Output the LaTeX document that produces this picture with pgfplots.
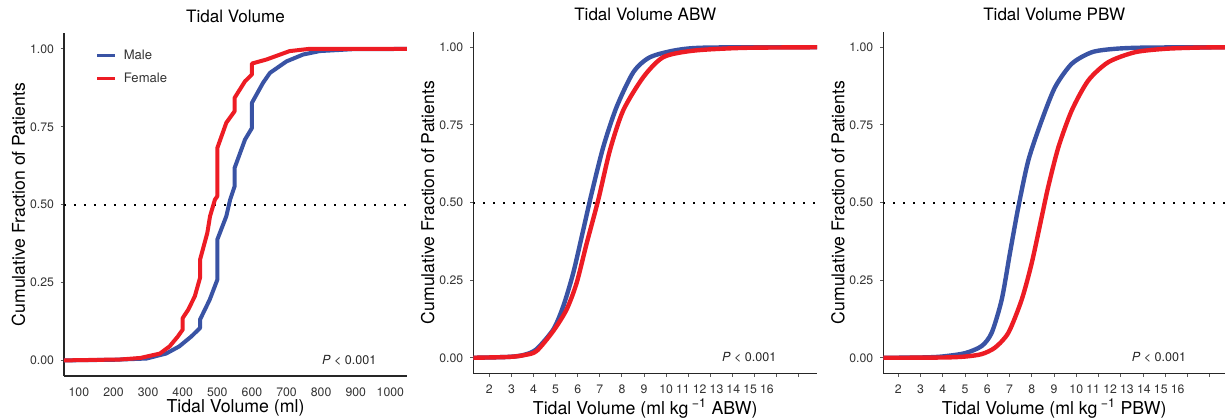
\documentclass[border=0pt]{standalone}
\usepackage{fontspec}
\setmainfont{TeX Gyre Heros}
\usepackage{pgfplots}
\pgfplotsset{compat=1.18}

\definecolor{male}{RGB}{57,83,164}
\definecolor{female}{RGB}{237,28,36}

% 1 px of the reference = 0.75pt
\pgfplotsset{
  cdf/.style={
    scale only axis,
    axis x line*=bottom, axis y line*=left,
    axis line style={black!85, line width=0.9pt},
    ymin=-0.05, ymax=1.05,
    ytick={0,0.25,0.5,0.75,1},
    yticklabel style={/pgf/number format/fixed,
      /pgf/number format/fixed zerofill,
      /pgf/number format/precision=2, xshift=-1.5pt},
    xticklabel style={yshift=-2.5pt},
    /pgf/number format/assume math mode=true,
    /pgf/number format/1000 sep={},
    tick label style={font=\fontsize{9.2}{10}\selectfont, text=black!80},
    tick align=outside, major tick length=2.5pt,
    tick style={black!65, line width=0.75pt},
    title style={font=\fontsize{12.8}{14}\selectfont,
      at={(axis description cs:0.5,1.027)}, anchor=center},
    xlabel style={font=\fontsize{13.3}{14}\selectfont, anchor=center},
    ylabel style={font=\fontsize{13.2}{14}\selectfont, anchor=center,
      at={(axis description cs:-0.1327,0.5)}},
    ylabel={Cumulative Fraction of Patients},
    clip=true,
  },
  kgx/.style={
    xtick={2,...,16},
    xticklabels={2,3,4,5,6,7,8,9,,,,,,,},
    extra x ticks={10,10.76,11.52,12.28,13.04,13.8,14.56},
    extra x tick labels={10,11,12,13,14,15,16},
    extra x tick style={major tick style={draw=none}},
    xlabel style={at={(axis description cs:0.5,-0.102)}},
  },
  curve/.style={line width=3pt, line join=round},
  scurve/.style={line width=3.3pt, smooth, tension=0.45},
  hline/.style={black, line width=1.5pt, dash pattern=on 1.5pt off 6pt, forget plot},
}

\begin{document}
\begin{tikzpicture}
\useasboundingbox (0,0) rectangle (918.75pt,313.5pt);

% ---------------- Tidal Volume (ml)
\begin{axis}[cdf,
  at={(48pt,31.5pt)}, width=257.25pt, height=257pt,
  xmin=57, xmax=1048,
  xtick={100,200,...,1000},
  xtick style={draw=none},
  xlabel={Tidal Volume (ml)},
  xlabel style={at={(axis description cs:0.5,-0.094)}},
  title={Tidal Volume},
  legend style={at={(axis description cs:0.08,0.968)}, anchor=north west,
    draw=none, fill=none, font=\fontsize{9.8}{10}\selectfont, text=black!80,
    row sep=4.5pt, /tikz/every odd column/.append style={column sep=3.5pt}},
  legend cell align=left,
  legend image code/.code={
    \draw[#1, line width=2.6pt] (0pt,0pt) -- (13pt,0pt);},
]
\addplot[hline] coordinates {(57,0.5) (1048,0.5)};
\addplot[curve, male] coordinates {
  (50,0) (200,0.002) (295,0.006) (352,0.022) (390,0.045) (425,0.077)
  (450,0.104) (450,0.131) (478,0.195) (500,0.259) (500,0.388) (526,0.463)
  (537,0.516) (550,0.559) (550,0.618) (580,0.709) (600,0.746) (600,0.827)
  (632,0.891) (652,0.923) (700,0.960) (748,0.982) (796,0.993) (890,0.999)
  (1060,1)};
\addlegendentry{Male}
\addplot[curve, female] coordinates {
  (50,0) (220,0.003) (278,0.008) (334,0.022) (362,0.045) (386,0.077)
  (400,0.099) (400,0.136) (416,0.163) (435,0.206) (450,0.265) (450,0.323)
  (471,0.409) (479,0.463) (493,0.516) (500,0.527) (500,0.682) (526,0.763)
  (550,0.800) (550,0.843) (580,0.896) (600,0.918) (600,0.953) (642,0.966)
  (709,0.993) (765,1.0) (1060,1)};
\addlegendentry{Female}
\node[anchor=east, font=\fontsize{9.4}{11}\selectfont, text=black!85]
  at (axis cs:973,0) {\textit{P} < 0.001};
\end{axis}

% ---------------- Tidal Volume ABW
\begin{axis}[cdf, kgx,
  at={(355pt,33.5pt)}, width=257.8pt, height=256.2pt,
  xmin=1.276, xmax=16.83,
  xlabel={Tidal Volume (ml kg\textsuperscript{ −1} ABW)},
  title={Tidal Volume ABW},
]
\addplot[hline] coordinates {(1.276,0.5) (16.83,0.5)};
\addplot[scurve, male] coordinates {
  (1.2,0) (2.9,0.003) (3.6,0.010) (4.14,0.028) (4.9,0.092) (5.35,0.167)
  (5.8,0.274) (6.25,0.412) (6.63,0.530) (7.16,0.680) (7.76,0.808)
  (8.52,0.920) (9.27,0.968) (10.48,0.991) (11.9,0.999) (17,1)};
\addplot[scurve, female] coordinates {
  (1.2,0) (2.94,0.003) (3.6,0.009) (4.14,0.022) (4.9,0.087) (5.5,0.156)
  (5.95,0.241) (6.41,0.370) (6.93,0.509) (7.46,0.669) (8.06,0.797)
  (8.97,0.904) (9.87,0.968) (11.23,0.989) (13.5,0.998) (17,1)};
\node[anchor=east, font=\fontsize{9.4}{11}\selectfont, text=black!85]
  at (axis cs:15.2,0) {\textit{P} < 0.001};
\end{axis}

% ---------------- Tidal Volume PBW
\begin{axis}[cdf, kgx,
  at={(662.5pt,33.5pt)}, width=256.3pt, height=256.2pt,
  xmin=1.326, xmax=16.69,
  xlabel={Tidal Volume (ml kg\textsuperscript{ −1} PBW)},
  title={Tidal Volume PBW},
]
\addplot[hline] coordinates {(1.326,0.5) (16.69,0.5)};
\addplot[scurve, male] coordinates {
  (1.2,0) (3.0,0.001) (3.95,0.004) (5.0,0.015) (5.75,0.038) (6.2,0.081)
  (6.65,0.188) (7.02,0.338) (7.4,0.487) (7.85,0.637) (8.45,0.765)
  (9.05,0.872) (9.8,0.947) (10.7,0.984) (11.74,0.995) (13.2,0.999) (17,1)};
\addplot[scurve, female] coordinates {
  (1.2,0) (4.0,0.001) (5.0,0.004) (5.75,0.012) (6.35,0.033) (6.95,0.081)
  (7.55,0.188) (8.0,0.306) (8.45,0.455) (8.74,0.551) (9.2,0.679)
  (9.8,0.797) (10.54,0.893) (11.44,0.952) (12.64,0.984) (14.0,0.995)
  (15.5,0.999) (17,1)};
\node[anchor=east, font=\fontsize{9.4}{11}\selectfont, text=black!85]
  at (axis cs:15.15,0) {\textit{P} < 0.001};
\end{axis}
\end{tikzpicture}
\end{document}
